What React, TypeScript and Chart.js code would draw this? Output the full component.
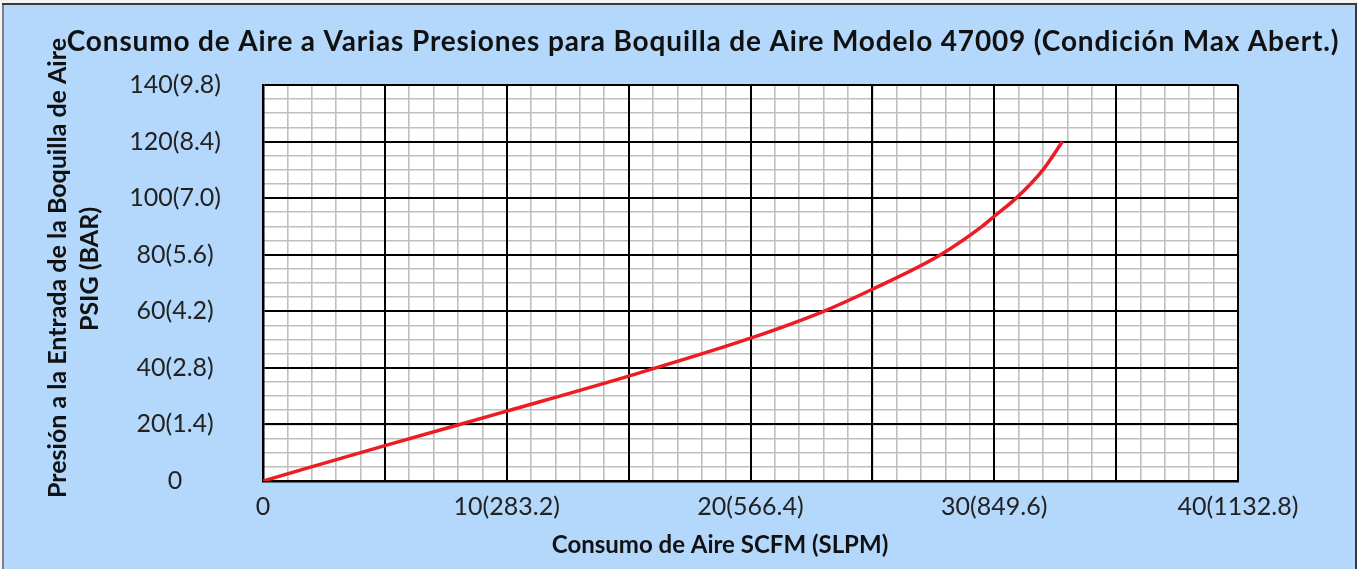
import React, { useEffect, useRef } from 'react';
import { Chart, registerables } from 'chart.js';

Chart.register(...registerables);

// ---- data ----
const chartTitle = 'Consumo de Aire a Varias Presiones para Boquilla de Aire Modelo 47009 (Condición Max Abert.)';
const xAxisTitle = 'Consumo de Aire SCFM (SLPM)';
const yAxisTitleLines = ['Presión a la Entrada de la Boquilla de Aire', 'PSIG (BAR)'];

const airFlowScfm = [0, 5, 10, 15, 20, 23, 25, 27.8, 29.5, 30, 30.9, 32, 32.8];
const inletPressurePsig = [0, 12.5, 24.7, 37.1, 50.5, 60, 67.8, 80, 90, 93.6, 100, 110, 120];

const xTickValues = [0, 10, 20, 30, 40];
const xTickLabels = ['0', '10(283.2)', '20(566.4)', '30(849.6)', '40(1132.8)'];
const yTickValues = [0, 20, 40, 60, 80, 100, 120, 140];
const yTickLabels = ['0', '20(1.4)', '40(2.8)', '60(4.2)', '80(5.6)', '100(7.0)', '120(8.4)', '140(9.8)'];

// ---- styles ----
const FONT = 'Lato, "Open Sans", sans-serif';
const PANEL = 'rgb(180,216,251)';
const TEXT = '#222222';
const TITLE_TEXT = '#111111';

const framePlugin = {
  id: 'frame',
  beforeDraw(chart: any) {
    const { ctx, width, height, chartArea: a } = chart;
    ctx.save();
    ctx.fillStyle = '#f4f4f4';
    ctx.fillRect(0, 0, width, height);
    ctx.fillStyle = PANEL;
    ctx.fillRect(3, 4, width - 3, height - 4);
    ctx.fillStyle = '#808080';
    ctx.fillRect(2, 4, 2, height - 4);
    ctx.fillStyle = '#3a3a3a';
    ctx.fillRect(2, 3, width - 2, 2);
    ctx.fillRect(width - 2, 3, 2, height - 3);
    ctx.fillStyle = '#ffffff';
    ctx.fillRect(a.left, a.top, a.right - a.left, a.bottom - a.top);
    ctx.restore();
  },
  afterDraw(chart: any) {
    const { ctx } = chart;
    ctx.save();
    ctx.fillStyle = TITLE_TEXT;
    ctx.textAlign = 'center';
    ctx.textBaseline = 'alphabetic';
    ctx.font = `bold 28px ${FONT}`;
    (ctx as any).letterSpacing = '0.85px';
    ctx.fillText(chartTitle, 703, 51);
    (ctx as any).letterSpacing = '0px';
    ctx.font = `bold 24px ${FONT}`;
    ctx.fillText(xAxisTitle, 720, 553);
    ctx.font = `bold 25px ${FONT}`;
    ctx.save();
    ctx.translate(66, 268);
    ctx.rotate(-Math.PI / 2);
    ctx.fillText(yAxisTitleLines[0], 0, 0);
    ctx.restore();
    ctx.save();
    ctx.translate(98, 269);
    ctx.rotate(-Math.PI / 2);
    ctx.fillText(yAxisTitleLines[1], 0, 0);
    ctx.restore();
    ctx.restore();
  },
};

function labelFor(values: number[], labels: string[], v: number) {
  const i = values.indexOf(Number(v));
  return i >= 0 ? labels[i] : '';
}

export default function App() {
  const canvasRef = useRef<HTMLCanvasElement | null>(null);

  useEffect(() => {
    const canvas = canvasRef.current;
    if (!canvas) return;
    const points = airFlowScfm.map((x, i) => ({ x, y: inletPressurePsig[i] }));
    const chart = new Chart(canvas, {
      type: 'line',
      data: {
        datasets: [
          {
            data: points,
            borderColor: '#ed1c24',
            borderWidth: 3.5,
            pointRadius: 0,
            fill: false,
            cubicInterpolationMode: 'monotone',
            xAxisID: 'x',
            yAxisID: 'y',
          },
        ],
      },
      options: {
        animation: false,
        responsive: false,
        devicePixelRatio: 1,
        layout: { padding: { left: 0, top: 85, right: 119, bottom: 0 } },
        plugins: { legend: { display: false }, tooltip: { enabled: false }, title: { display: false } },
        scales: {
          xMinor: {
            type: 'linear',
            axis: 'x',
            position: 'bottom',
            min: 0,
            max: 40,
            ticks: { display: false, stepSize: 1 },
            grid: { color: '#bfbfbf', lineWidth: 1.6, drawTicks: false, z: -2 },
            border: { display: false },
            afterFit: (s: any) => { s.height = 0; },
          },
          yMinor: {
            type: 'linear',
            axis: 'y',
            position: 'left',
            min: 0,
            max: 140,
            ticks: { display: false, stepSize: 5 },
            grid: { color: '#bfbfbf', lineWidth: 1.6, drawTicks: false, z: -2 },
            border: { display: false },
            afterFit: (s: any) => { s.width = 0; },
          },
          x: {
            type: 'linear',
            position: 'bottom',
            min: 0,
            max: 40,
            ticks: {
              stepSize: 5,
              autoSkip: false,
              maxRotation: 0,
              padding: 11,
              color: TEXT,
              font: { family: FONT, size: 25 },
              callback: (v: any) => labelFor(xTickValues, xTickLabels, v),
            },
            grid: { color: '#000000', lineWidth: 2, drawTicks: false, z: -1 },
            border: { display: true, color: '#000000', width: 2.5 },
            afterFit: (s: any) => { s.height = 88; },
          },
          y: {
            type: 'linear',
            position: 'left',
            min: 0,
            max: 140,
            ticks: {
              stepSize: 20,
              autoSkip: false,
              crossAlign: 'center',
              padding: 42,
              color: TEXT,
              font: { family: FONT, size: 25 },
              callback: (v: any) => labelFor(yTickValues, yTickLabels, v),
            },
            grid: { color: '#000000', lineWidth: 2, drawTicks: false, z: -1 },
            border: { display: true, color: '#000000', width: 2.5 },
            afterFit: (s: any) => { s.width = 263; },
          },
        },
      },
      plugins: [framePlugin],
    } as any);
    return () => chart.destroy();
  }, []);

  return (
    <canvas
      ref={canvasRef}
      width={1357}
      height={569}
      style={{ position: 'fixed', left: 0, top: 0, display: 'block', width: 1357, height: 569 }}
    />
  );
}
